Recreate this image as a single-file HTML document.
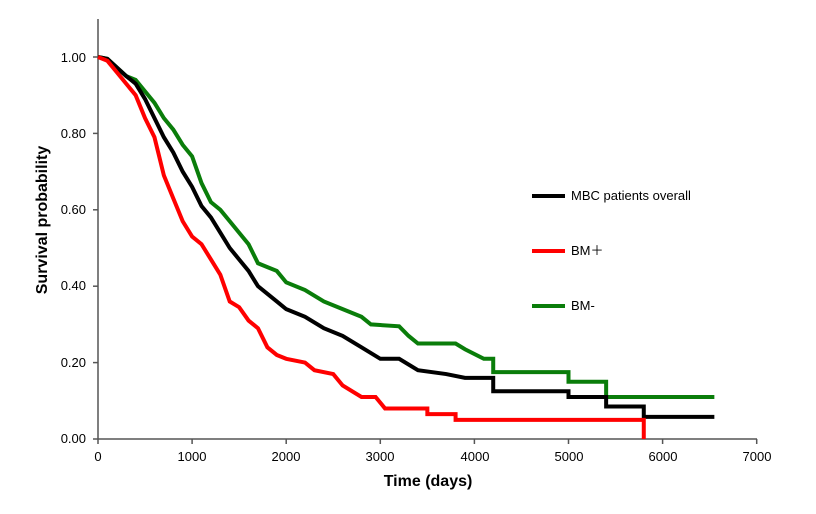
<!DOCTYPE html>
<html><head><meta charset="utf-8"><style>body{margin:0;background:#fff}svg{display:block}text{font-family:"Liberation Sans",sans-serif}</style></head>
<body>
<svg id="s" width="816" height="514" xmlns="http://www.w3.org/2000/svg">
<g stroke="#555" stroke-width="1.5" fill="none">
<line x1="98" y1="19" x2="98" y2="439"/><line x1="98" y1="439" x2="757" y2="439"/>
</g>
<g id="ticks" stroke="#555" stroke-width="1.5"></g>
<g font-size="13" fill="#000" text-anchor="end">
<text x="86" y="62">1.00</text><text x="86" y="138">0.80</text><text x="86" y="214">0.60</text><text x="86" y="290">0.40</text><text x="86" y="367">0.20</text><text x="86" y="443">0.00</text>
</g>
<g font-size="13" fill="#000" text-anchor="middle">
<text x="98" y="461">0</text><text x="192" y="461">1000</text><text x="286" y="461">2000</text><text x="380" y="461">3000</text><text x="475" y="461">4000</text><text x="569" y="461">5000</text><text x="663" y="461">6000</text><text x="757" y="461">7000</text>
</g>
<text x="428" y="486" font-size="16" font-weight="bold" text-anchor="middle">Time (days)</text>
<text transform="translate(47,220) rotate(-90)" font-size="16" font-weight="bold" text-anchor="middle">Survival probability</text>
<g stroke-width="4" fill="none" stroke-linejoin="miter">
<polyline id="g" stroke="#0a7d0a"/><polyline id="k" stroke="#000"/><polyline id="r" stroke="#f00"/>
</g>
<g stroke-width="4"><line x1="532" y1="196" x2="565" y2="196" stroke="#000"/><line x1="532" y1="251" x2="565" y2="251" stroke="#f00"/><line x1="532" y1="306" x2="565" y2="306" stroke="#0a7d0a"/></g>
<g font-size="13"><text x="571" y="200">MBC patients overall</text><text x="571" y="255">BM＋</text><text x="571" y="310">BM-</text></g>
</svg>
<script>
var X=d=>98+d*0.0941,Y=p=>439-p*382;
var t=document.getElementById('ticks'),h='';
for(var i=0;i<=7;i++)h+='<line x1="'+X(i*1000)+'" y1="439" x2="'+X(i*1000)+'" y2="444"/>';
for(var j=0;j<=5;j++)h+='<line x1="93" y1="'+Y(j*0.2)+'" x2="98" y2="'+Y(j*0.2)+'"/>';
t.innerHTML=h;
function st(id,a,cut){var s='';for(var i=0;i<a.length;i++){var d=a[i][0],p=a[i][1];if(i>0&&d>cut)s+=X(d)+','+Y(a[i-1][1])+' ';s+=X(d)+','+Y(p)+' ';}document.getElementById(id).setAttribute('points',s);}
st('k',[[0,1],[100,.995],[300,.95],[400,.93],[500,.89],[600,.84],[700,.79],[800,.75],[900,.70],[1000,.66],[1100,.61],[1200,.58],[1300,.54],[1400,.50],[1500,.47],[1600,.44],[1700,.40],[1800,.38],[1900,.36],[2000,.34],[2200,.32],[2400,.29],[2600,.27],[2800,.24],[3000,.21],[3200,.21],[3400,.18],[3700,.17],[3900,.16],[4200,.125],[5000,.11],[5400,.085],[5800,.058],[6550,.058]],3900);
st('r',[[0,1],[100,.99],[200,.96],[300,.93],[400,.90],[500,.84],[600,.79],[700,.69],[800,.63],[900,.57],[1000,.53],[1100,.51],[1200,.47],[1300,.43],[1400,.36],[1500,.345],[1600,.31],[1700,.29],[1800,.24],[1900,.22],[2000,.21],[2200,.20],[2300,.18],[2500,.17],[2600,.14],[2800,.11],[2950,.11],[3050,.08],[3300,.08],[3500,.065],[3800,.05],[5800,0]],3400);
st('g',[[0,1],[100,.995],[300,.95],[400,.94],[500,.91],[600,.88],[700,.84],[800,.81],[900,.77],[1000,.74],[1100,.67],[1200,.62],[1300,.60],[1400,.57],[1500,.54],[1600,.51],[1700,.46],[1800,.45],[1900,.44],[2000,.41],[2200,.39],[2400,.36],[2600,.34],[2800,.32],[2900,.30],[3200,.295],[3300,.27],[3400,.25],[3800,.25],[3900,.235],[4100,.21],[4200,.175],[5000,.15],[5400,.11],[6550,.11]],4100);
</script>
</body></html>
